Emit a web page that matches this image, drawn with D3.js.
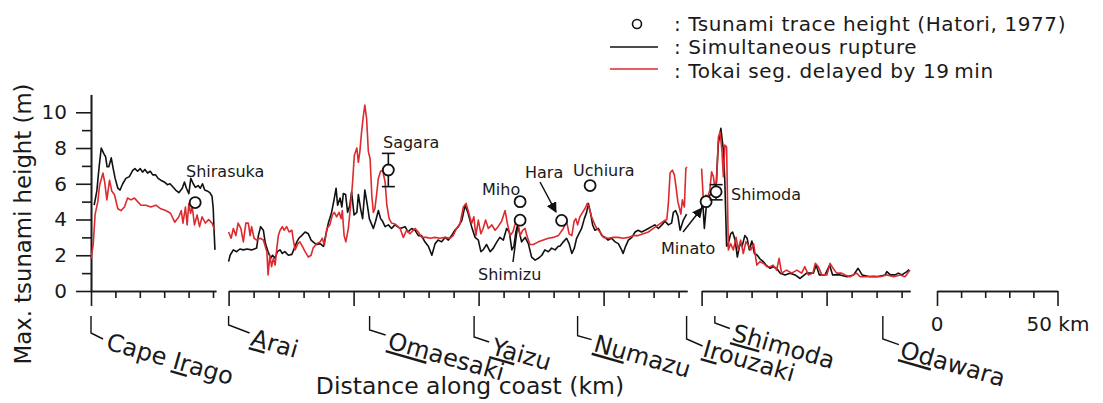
<!DOCTYPE html>
<html>
<head>
<meta charset="utf-8">
<script src="https://cdn.jsdelivr.net/npm/d3@7"></script>
<style>
  body { margin: 0; background: #fff; }
  svg text { font-family: "DejaVu Sans", Verdana, sans-serif; fill: #1a1a1a; }
  .axis path, .axis line { stroke: #1a1a1a; stroke-width: 1.6; }
</style>
</head>
<body>
<div id="app"></div>
<script>
// ---- data (km from start of each coast segment, height in m) ----
const seg1Black = [[1.3,4.8],[2.4,5.6],[3.3,6.9],[4.2,8.0],[5.2,7.7],[6.0,7.5],[6.6,6.95],[7.3,6.95],[8.3,7.45],[9.1,6.85],[9.9,6.3],[11.0,5.75],[11.9,5.65],[13.0,6.0],[14.3,6.3],[15.7,6.4],[17.1,6.75],[18.0,6.85],[19.1,6.7],[20.2,6.85],[21.1,6.65],[22.1,6.8],[23.2,6.6],[24.3,6.7],[25.3,6.5],[26.5,6.5],[27.5,6.3],[28.6,6.2],[30.0,6.1],[31.3,5.95],[32.4,6.0],[33.7,5.8],[34.7,5.65],[36.0,5.5],[37.4,5.75],[38.3,6.1],[39.1,5.75],[40.1,5.45],[40.9,6.3],[41.9,6.0],[42.8,5.8],[43.9,5.9],[44.8,5.75],[45.7,6.0],[46.6,5.65],[47.6,5.6],[48.7,5.5],[49.6,5.3],[50.1,4.6],[50.4,3.5],[50.8,2.3]];
const seg1Red = [[0,1.8],[0.9,2.6],[1.7,4.3],[2.8,5.0],[3.5,5.9],[4.9,6.6],[5.6,6.1],[6.5,5.1],[7.6,6.2],[8.5,5.6],[9.6,5.4],[11.0,4.6],[12.3,4.5],[13.7,4.7],[15.0,5.2],[16.4,5.1],[17.8,5.2],[19.1,5.0],[20.5,4.8],[22.5,4.8],[24.5,4.7],[26.6,4.8],[28.6,4.6],[30.6,4.5],[32.6,4.35],[34.3,3.85],[36.0,4.15],[37.0,4.5],[37.7,3.8],[38.7,4.7],[39.4,3.7],[40.1,4.9],[40.8,4.35],[41.5,4.7],[42.4,3.7],[43.5,4.25],[44.5,3.6],[45.5,4.15],[46.9,3.8],[48.2,4.0],[49.6,3.8],[50.7,3.4]];

const seg2Black = [[0,1.64],[0.6,2.0],[1.9,2.3],[3.2,2.2],[4.5,2.35],[5.9,2.3],[7.3,2.35],[9.2,2.3],[11.2,2.4],[11.9,3.1],[12.8,3.6],[13.9,3.4],[14.6,2.75],[15.3,2.4],[15.8,2.2],[16.8,1.83],[17.6,2.0],[18.6,1.83],[19.5,2.2],[20.6,2.3],[21.5,2.1],[22.5,2.2],[23.9,2.0],[25.3,2.05],[26.3,2.4],[27.3,2.75],[28.1,2.95],[29.2,3.1],[30.6,3.3],[31.9,3.2],[33.0,2.85],[33.8,2.75],[35.2,2.6],[36.6,2.65],[37.9,2.5],[38.6,2.95],[39.9,3.8],[41.2,4.4],[42.3,5.2],[43.0,5.75],[43.6,4.8],[44.6,5.2],[45.3,4.7],[45.9,5.45],[46.8,5.4],[47.6,4.4],[48.5,4.8],[49.2,5.55],[50.2,4.25],[51.3,4.4],[51.9,5.4],[52.8,4.6],[53.6,4.05],[54.5,5.65],[55.5,4.8],[56.3,4.05],[57.3,3.7],[57.9,3.5],[58.8,3.9],[59.9,4.5],[60.8,4.05],[61.6,3.9],[62.6,3.6],[63.9,3.7],[65.2,3.5],[66.5,3.7],[68.6,3.5],[70.6,3.6],[71.8,3.3],[73.2,3.5],[74.6,3.4],[75.9,3.1],[77.2,3.1],[78.5,2.75],[79.9,2.5],[81.3,2.0],[82.6,2.65],[83.8,2.85],[85.2,2.75],[86.6,3.0],[87.9,2.85],[89.2,3.1],[90.5,3.4],[91.9,3.6],[93.3,3.95],[94.6,4.8],[95.8,4.35],[97.2,3.6],[98.6,3.0],[99.9,2.85],[100.9,2.2],[101.8,2.3],[103.2,2.6],[104.6,2.2],[105.9,2.4],[107.3,2.75],[108.5,3.0],[109.9,2.85],[111.2,3.5],[112.3,3.3],[113.3,2.3],[114.1,2.5],[114.9,3.3],[115.6,3.7],[116.3,3.3],[117.2,2.75],[118.6,3.0],[119.9,2.65],[121.2,1.9],[122.6,1.73],[123.9,1.83],[125.3,2.0],[126.5,2.3],[127.9,2.2],[129.2,2.4],[130.6,2.3],[131.9,2.5],[132.5,2.5],[133.9,2.75],[135.2,2.95],[136.2,2.65],[137.3,2.1],[138.3,2.4],[139.2,2.95],[140.1,3.2],[141.2,3.5],[142.3,4.05],[143.2,4.4],[143.9,4.9],[144.8,4.35],[145.6,3.7],[146.5,3.4],[147.9,3.5],[149.3,3.1],[150.6,3.0],[151.8,2.85],[153.2,2.95],[154.6,2.75],[155.9,2.65],[157.2,2.3],[157.8,2.1],[158.8,2.5],[159.9,2.85],[161.3,3.0],[162.6,3.3],[163.8,3.4],[165.2,3.3],[166.6,3.4],[167.9,3.5],[169.2,3.6],[170.5,3.7],[171.9,3.5],[173.3,3.7],[174.6,3.9],[175.9,3.7],[177.2,3.8],[177.9,4.4],[178.8,4.5],[179.7,4.2],[180.6,3.4],[181.9,3.97],[183.2,4.3]];
const seg2Red = [[0,3.3],[1.0,2.95],[1.9,3.5],[2.9,3.1],[3.8,3.8],[4.9,3.5],[5.9,2.75],[6.9,3.8],[7.9,3.8],[8.6,3.1],[9.2,3.6],[10.2,2.95],[11.2,2.85],[12.6,2.95],[13.9,2.85],[15.3,2.2],[15.8,0.9],[16.5,2.0],[17.2,1.36],[17.9,1.83],[18.6,1.45],[19.3,2.4],[19.9,3.1],[20.6,3.4],[21.5,3.6],[22.2,3.4],[23.2,3.6],[24.2,3.3],[25.3,3.4],[25.9,2.85],[26.6,2.3],[27.7,2.65],[28.5,2.75],[29.5,2.5],[30.6,2.2],[31.9,1.9],[33.0,2.0],[33.8,2.4],[35.2,2.65],[36.6,2.75],[37.5,2.95],[38.3,2.55],[39.3,3.5],[40.5,3.7],[41.5,4.25],[42.3,4.4],[43.2,4.15],[44.2,4.4],[45.0,4.05],[45.5,4.5],[46.2,3.1],[46.9,2.75],[47.9,3.5],[48.8,4.8],[49.5,5.9],[50.3,7.6],[51.3,8.0],[51.9,7.2],[52.5,7.8],[53.2,8.9],[53.9,9.8],[54.5,10.4],[55.2,9.65],[55.9,7.8],[56.6,7.4],[57.3,5.3],[57.9,4.4],[58.5,4.6],[59.2,5.4],[59.9,6.3],[60.8,6.7],[61.6,6.76],[62.6,6.1],[63.3,4.8],[64.2,4.05],[65.2,3.8],[66.5,3.75],[68.6,3.5],[69.9,3.0],[71.2,3.4],[72.5,3.2],[74.6,3.5],[75.9,3.3],[77.2,3.0],[79.2,3.0],[80.6,2.95],[82.6,3.0],[84.5,2.95],[86.6,3.0],[88.6,2.95],[89.8,3.1],[91.2,3.5],[92.6,3.78],[93.9,4.7],[95.0,4.9],[95.8,4.5],[97.2,3.78],[98.1,4.15],[98.9,3.1],[99.9,3.97],[100.9,3.2],[101.8,3.5],[102.8,3.97],[103.9,3.5],[105.3,3.7],[106.6,3.4],[107.8,3.6],[109.2,3.9],[110.6,4.5],[111.5,3.78],[112.6,3.1],[113.7,3.3],[114.5,3.7],[115.2,3.9],[115.9,3.7],[116.6,3.1],[117.7,3.4],[118.6,3.5],[119.3,3.1],[120.5,2.6],[121.9,2.6],[123.9,2.75],[125.9,2.85],[127.9,2.95],[129.9,3.0],[131.9,3.1],[133.9,3.5],[135.2,3.9],[136.2,3.2],[137.3,3.1],[138.2,3.9],[138.9,4.05],[139.6,3.7],[140.5,4.15],[141.6,4.4],[142.5,4.6],[143.5,4.9],[144.3,4.6],[145.2,4.15],[146.3,3.78],[147.2,3.5],[148.6,3.3],[149.9,3.0],[151.8,2.95],[153.9,3.0],[155.9,3.0],[157.8,2.95],[159.9,3.0],[161.9,3.1],[163.8,3.1],[165.9,3.2],[167.9,3.3],[169.9,3.5],[171.9,3.7],[173.9,3.9],[175.3,4.0],[175.9,4.9],[176.6,6.6],[177.5,6.76],[178.3,6.5],[179.0,5.8],[179.7,5.0],[180.4,4.6],[180.9,4.3],[181.5,5.1],[182.3,4.7],[182.9,6.85],[183.3,6.95]];

const seg3Black = [[0,4.6],[0.4,5.1],[1.1,3.5],[2.1,5.1],[3.3,5.36],[4.7,5.64],[5.8,5.9],[6.7,8.25],[7.7,9.1],[8.7,7.9],[9.3,6.1],[10.0,2.5],[10.7,2.65],[11.6,3.2],[12.4,3.3],[13.4,2.85],[14.3,1.9],[15.4,2.65],[16.2,2.5],[17.3,3.1],[18.2,2.95],[19.1,2.3],[20.1,2.8],[21.1,2.1],[22.3,2.0],[23.3,1.8],[24.7,1.64],[25.8,1.45],[27.4,1.27],[28.6,1.36],[30.0,1.27],[31.4,1.0],[33.4,0.9],[35.3,1.0],[37.4,0.9],[39.4,0.7],[42.0,1.0],[44.7,1.0],[45.8,1.45],[47.1,0.9],[49.4,0.9],[51.2,1.45],[52.4,0.9],[55.4,0.9],[58.2,0.8],[60.8,0.9],[62.6,1.27],[64.2,0.9],[67.4,0.8],[70.1,0.8],[73.4,0.9],[74.1,1.08],[75.5,0.9],[77.4,0.9],[78.7,1.0],[80.1,0.9],[82.1,1.08],[83.0,1.2]];
const seg3Red = [[0,6.85],[0.7,5.1],[1.7,5.36],[2.5,5.3],[3.3,5.64],[4.0,6.67],[4.7,6.4],[5.3,5.8],[6.0,6.1],[6.7,8.6],[7.4,8.9],[8.1,7.9],[8.7,6.4],[9.3,8.16],[10.0,8.06],[10.7,2.3],[11.6,2.65],[12.7,2.3],[13.8,3.0],[14.7,2.3],[15.6,2.85],[16.7,2.1],[17.7,2.75],[18.8,2.55],[19.7,2.3],[20.8,2.65],[22.1,1.45],[23.3,1.64],[24.7,1.55],[26.1,1.36],[27.4,1.36],[28.6,1.45],[30.0,1.17],[31.0,1.83],[32.0,1.0],[34.0,1.17],[36.0,1.0],[38.1,1.17],[40.0,1.0],[41.3,1.36],[42.7,0.9],[44.5,1.0],[45.5,1.55],[46.7,1.36],[48.1,0.9],[50.1,0.9],[51.4,1.55],[52.6,1.27],[54.0,1.0],[56.0,1.0],[57.4,0.9],[59.3,0.8],[62.0,1.0],[63.4,0.8],[66.0,0.8],[68.7,0.84],[71.3,0.8],[74.1,0.9],[76.8,0.8],[79.4,0.9],[81.4,0.8],[82.8,1.08],[83.4,1.17]];

// trace heights: [segment, km, height, errLow, errHigh]
const traceNames = ["Shirasuka", "Sagara", "Miho", "Miho", "Hara", "Uchiura", "Minato", "Shimoda"];
const traceHeights = [[0, 42.7, 4.95], [1, 63.9, 6.77, 5.84, 7.7], [1, 116.6, 5.0], [1, 116.6, 3.96], [1, 133.2, 3.95], [1, 144.6, 5.9], [2, 1.8, 5.0], [2, 5.8, 5.55, 5.1, 5.95]];

// place names along the coast: [segment, km]
const placeNames = [["Cape ", "Ir", "ago"], ["", "A", "rai"], ["", "Om", "aesaki"], ["", "Ya", "izu"], ["", "Nu", "mazu"], ["", "Ir", "ouzaki"], ["", "Sh", "imoda"], ["", "Od", "awara"]];
const placeKm = [[0, 0], [1, 0], [1, 56.4], [1, 98.2], [1, 139.6], [1, 183.2], [2, 5.3], [2, 72.5]];

const yTicks = [0, 2, 4, 6, 8, 10];
const legendLabels = [": Tsunami trace height (Hatori, 1977)", ": Simultaneous rupture", ": Tokai seg. delayed by 19\u2009min"];

// ---- layout ----
const width = 1103, height = 403;
const segments = [
  { x0: 91, len: 51.2, kmPx: 2.44, majors: [0], black: seg1Black, red: seg1Red },
  { x0: 228.6, len: 183.4, kmPx: 2.5, majors: [0, 50, 100, 150], black: seg2Black, red: seg2Red },
  { x0: 701.6, len: 83.4, kmPx: 2.5, majors: [0, 50], black: seg3Black, red: seg3Red }
];
segments.forEach(s => {
  s.x = d3.scaleLinear().domain([0, s.len]).range([s.x0, s.x0 + s.len * s.kmPx]);
});

const svg = d3.select("#app").append("svg")
  .attr("width", width)
  .attr("height", height);

const y = d3.scaleLinear().domain([0, 11]).range([291, 94.4]);

// y axis
svg.append("g").attr("class", "axis")
  .attr("transform", "translate(91,0)")
  .call(d3.axisLeft(y).tickValues([1, 3, 5, 7, 9]).tickSize(9).tickSizeOuter(0).tickFormat(""));
const yAxis = svg.append("g").attr("class", "axis")
  .attr("transform", "translate(91,0)")
  .call(d3.axisLeft(y).tickValues(yTicks).tickSize(15).tickPadding(9).tickSizeOuter(0));
yAxis.selectAll("text").style("font-size", "20px").style("font-family", "DejaVu Sans").attr("fill", "#1a1a1a");

// x axis pieces
segments.forEach(s => {
  const minor = d3.range(10, s.len, 10).filter(v => !s.majors.includes(v));
  svg.append("g").attr("class", "axis")
    .attr("transform", `translate(0,${y(0)})`)
    .call(d3.axisBottom(s.x).tickValues(minor).tickSize(7).tickSizeOuter(0).tickFormat(""));
  svg.append("g").attr("class", "axis")
    .attr("transform", `translate(0,${y(0)})`)
    .call(d3.axisBottom(s.x).tickValues(s.majors).tickSize(15).tickSizeOuter(0).tickFormat(""));
});

// scale bar
const bar = d3.scaleLinear().domain([0, 50]).range([937, 1057.5]);
svg.append("g").attr("class", "axis")
  .attr("transform", `translate(0,${y(0)})`)
  .call(d3.axisBottom(bar).tickValues([10, 20, 30, 40]).tickSize(7).tickSizeOuter(0).tickFormat(""));
svg.append("g").attr("class", "axis")
  .attr("transform", `translate(0,${y(0)})`)
  .call(d3.axisBottom(bar).tickValues([0, 50]).tickSize(15).tickSizeOuter(0).tickFormat(""));
svg.append("text").attr("x", bar(0)).attr("y", 331).attr("text-anchor", "middle")
  .style("font-size", "20px").text("0");
svg.append("text").attr("x", bar(50) - 31).attr("y", 331)
  .style("font-size", "20px").text("50 km");

// profiles
const line = sx => d3.line().x(d => sx(d[0])).y(d => y(d[1]));
segments.forEach(s => {
  svg.append("path").datum(s.black).attr("d", line(s.x))
    .attr("fill", "none").attr("stroke", "#111").attr("stroke-width", 1.6).attr("stroke-linejoin", "round");
  svg.append("path").datum(s.red).attr("d", line(s.x))
    .attr("fill", "none").attr("stroke", "#dc2a2e").attr("stroke-width", 1.6).attr("stroke-linejoin", "round");
});

// trace heights with error bars
traceHeights.forEach(([si, km, h, lo, hi]) => {
  const cx = segments[si].x(km);
  if (lo !== undefined) {
    const g = svg.append("g").attr("stroke", "#111").attr("stroke-width", 1.6);
    g.append("line").attr("x1", cx).attr("x2", cx).attr("y1", y(lo)).attr("y2", y(hi));
    g.append("line").attr("x1", cx - 6.5).attr("x2", cx + 6.5).attr("y1", y(lo)).attr("y2", y(lo));
    g.append("line").attr("x1", cx - 6.5).attr("x2", cx + 6.5).attr("y1", y(hi)).attr("y2", y(hi));
  }
  svg.append("circle").attr("cx", cx).attr("cy", y(h)).attr("r", 5.5)
    .attr("fill", "#fff").attr("stroke", "#111").attr("stroke-width", 1.8);
});

// annotation labels
const annoPos = [[186, 177], [383, 148], [482, 195], [525, 178], [573, 176], [661, 254], [731, 200]];
const annoText = ["Shirasuka", "Sagara", "Miho", "Hara", "Uchiura", "Minato", "Shimoda"];
annoText.forEach((t, i) => {
  svg.append("text").attr("x", annoPos[i][0]).attr("y", annoPos[i][1])
    .style("font-size", "16px").attr("fill", "#3a3a3a").text(t);
});
svg.append("text").attr("x", 478).attr("y", 280)
  .style("font-size", "16px").attr("fill", "#3a3a3a").text("Shimizu");

svg.append("defs").append("marker")
  .attr("id", "arrow").attr("viewBox", "0 0 10 10").attr("refX", 9).attr("refY", 5)
  .attr("markerWidth", 7).attr("markerHeight", 7).attr("orient", "auto")
  .append("path").attr("d", "M0,0 L10,5 L0,10 z").attr("fill", "#111");
svg.append("line").attr("x1", 540).attr("y1", 182).attr("x2", 556).attr("y2", 212)
  .attr("stroke", "#111").attr("stroke-width", 1.5).attr("marker-end", "url(#arrow)");
svg.append("line").attr("x1", 683).attr("y1", 232).attr("x2", 702).attr("y2", 208)
  .attr("stroke", "#111").attr("stroke-width", 1.5).attr("marker-end", "url(#arrow)");
svg.append("line").attr("x1", 513).attr("y1", 262).attr("x2", 517.5).attr("y2", 227)
  .attr("stroke", "#111").attr("stroke-width", 1.5);

// place-name leaders and rotated labels
const leader = [[333, 12, 6, 14, 16], [325, 21, 8, 21, 20], [330, 16, 5, 17, 18], [337, 15, 5, 16, 17],
                [335.7, 14, 4, 15, 15], [339, 16, 7, 15, 17], [323, 15, 5.5, 16, 17], [339, 16, 5.6, 16, 18]];
placeNames.forEach((parts, i) => {
  const [si, km] = placeKm[i];
  const px = segments[si].x(km);
  const [yv, dx, dy, tx, ty] = leader[i];
  svg.append("path")
    .attr("d", `M${px},${y(0) + 25}V${yv}L${px + dx},${yv + dy}`)
    .attr("fill", "none").attr("stroke", "#111").attr("stroke-width", 1.4);
  const t = svg.append("text")
    .attr("transform", `translate(${px + tx},${yv + ty}) rotate(16)`)
    .style("font-size", "24px");
  t.append("tspan").text(parts[0]);
  t.append("tspan").style("text-decoration", "underline").text(parts[1]);
  t.append("tspan").text(parts[2]);
});

// axis titles
svg.append("text").attr("x", 470).attr("y", 394).attr("text-anchor", "middle")
  .style("font-size", "23.5px").text("Distance along coast (km)");
svg.append("text").attr("transform", "translate(31,224) rotate(-90)").attr("text-anchor", "middle")
  .style("font-size", "22.8px").text("Max. tsunami height (m)");

// legend
const legend = svg.append("g");
legend.append("circle").attr("cx", 637).attr("cy", 24).attr("r", 4.5)
  .attr("fill", "none").attr("stroke", "#111").attr("stroke-width", 1.6);
legend.append("line").attr("x1", 610).attr("x2", 658).attr("y1", 47).attr("y2", 47)
  .attr("stroke", "#111").attr("stroke-width", 1.6);
legend.append("line").attr("x1", 610).attr("x2", 658).attr("y1", 69).attr("y2", 69)
  .attr("stroke", "#dc2a2e").attr("stroke-width", 1.6);
legendLabels.forEach((t, i) => {
  legend.append("text").attr("x", 674).attr("y", [31, 54.3, 77.6][i])
    .style("font-size", "20px").style("letter-spacing", "0.6px").text(t);
});
</script>
</body>
</html>
